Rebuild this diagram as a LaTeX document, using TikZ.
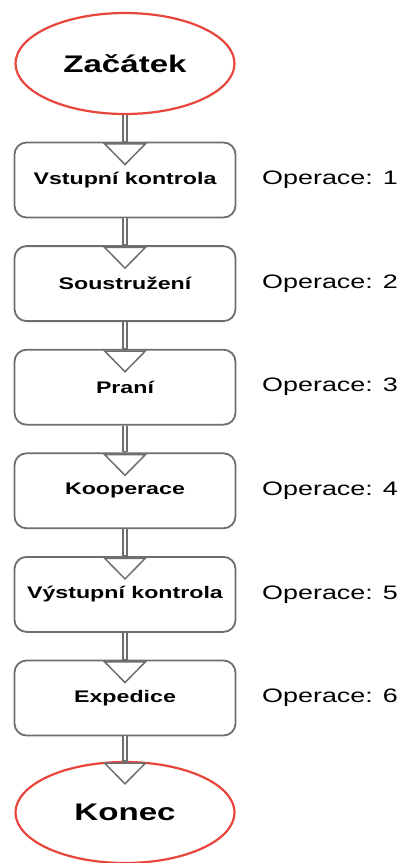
\documentclass[tikz,border=0pt]{standalone}
\usepackage{fontspec}
\setmainfont[FakeStretch=1.38]{Liberation Sans}
\usetikzlibrary{arrows.meta,shapes.geometric}
\definecolor{ered}{HTML}{E8453C}
\definecolor{bgray}{HTML}{6E6E6E}
\begin{document}
\begin{tikzpicture}[x=1pt,y=1pt,
  term/.style={ellipse, draw=ered, line width=2.2pt, fill=white, minimum width=219pt, minimum height=101pt, inner sep=0pt, font=\bfseries\fontsize{24}{28}\selectfont},
  opbox/.style={rectangle, rounded corners=12pt, draw=bgray, line width=1.8pt, fill=white, minimum width=221pt, minimum height=75pt, inner sep=0pt, font=\bfseries\fontsize{16.8}{20}\selectfont},
  oplabel/.style={font=\fontsize{19.5}{22}\selectfont, inner sep=0pt, anchor=west},
  shaft/.style={draw=bgray, line width=1.6pt, double=white, double distance=2.6pt},
  head/.style={draw=bgray, line width=1.5pt, -{Triangle[width=44pt,length=22.5pt,fill=white]}}]
\useasboundingbox (0,0) rectangle (401,-863);
\node[term] (start) at (125,-63.5) {Začátek};
\node[opbox] (b1) at (125,-180) {Vstupní kontrola};
\node[opbox] (b2) at (125,-283.6) {Soustružení};
\node[opbox] (b3) at (125,-387.2) {Praní};
\node[opbox] (b4) at (125,-490.8) {Kooperace};
\node[opbox] (b5) at (125,-594.4) {Výstupní kontrola};
\node[opbox] (b6) at (125,-698) {Expedice};
\node[term] (end) at (125,-812.5) {Konec};
\node[oplabel] (o1) at (262,-180) {Operace: 1};
\node[oplabel] (o2) at (262,-283.6) {Operace: 2};
\node[oplabel] (o3) at (262,-387.2) {Operace: 3};
\node[oplabel] (o4) at (262,-490.8) {Operace: 4};
\node[oplabel] (o5) at (262,-594.4) {Operace: 5};
\node[oplabel] (o6) at (262,-698) {Operace: 6};
\draw[shaft] (start.south) -- (b1.north);
\draw[shaft] (b1.south) -- (b2.north);
\draw[shaft] (b2.south) -- (b3.north);
\draw[shaft] (b3.south) -- (b4.north);
\draw[shaft] (b4.south) -- (b5.north);
\draw[shaft] (b5.south) -- (b6.north);
\draw[shaft] (b6.south) -- ([yshift=-1pt]end.north);
\foreach \n in {b1,b2,b3,b4,b5,b6,end}
  \draw[head] ([yshift=1pt]\n.north) -- ([yshift=-24pt]\n.north);
\end{tikzpicture}
\end{document}
